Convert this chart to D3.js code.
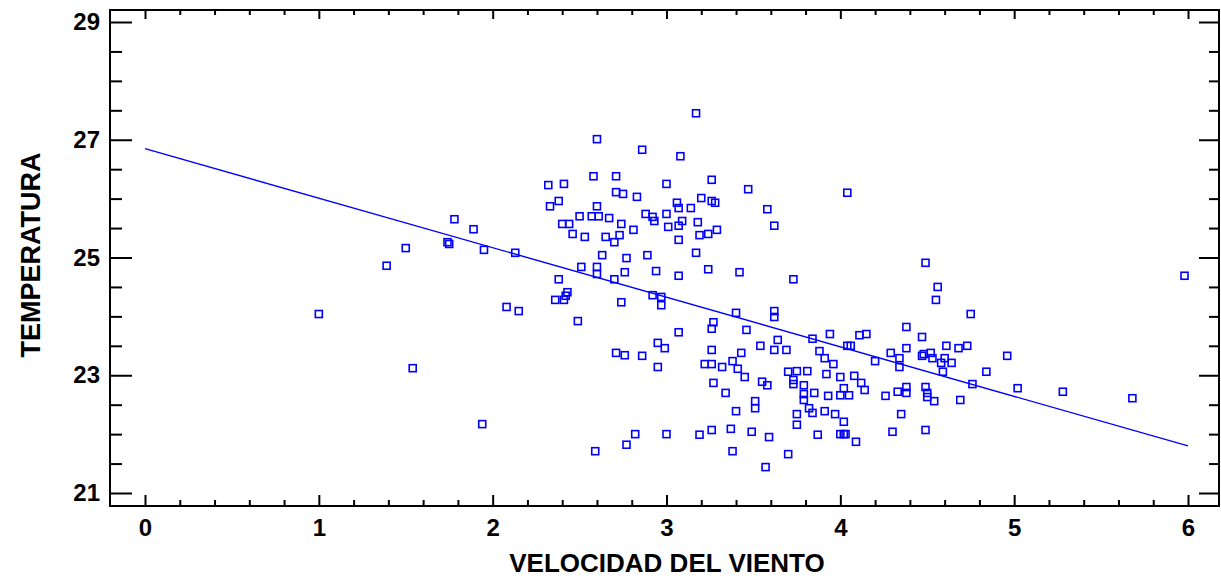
<!DOCTYPE html>
<html>
<head>
<meta charset="utf-8">
<script src="https://cdn.jsdelivr.net/npm/d3@7"></script>
<style>
  body { margin: 0; background: #fff; }
  svg text { font-family: "Liberation Sans", Arial, sans-serif; font-weight: bold; fill: #000; }
</style>
</head>
<body>
<svg id="chart" width="1221" height="578"></svg>
<script>
// data
const velocidad = [
  1.00, 1.39, 1.50, 1.54, 1.74, 1.75, 1.78, 1.89, 1.94, 1.95, 2.08, 2.13, 2.15,
  2.60, 2.58, 2.71, 2.32, 2.41, 2.71, 2.75, 2.38, 2.33, 2.60, 2.50, 2.57, 2.61, 2.67,
  2.40, 2.44, 2.74, 2.46, 2.53, 2.65, 2.73, 2.70, 2.63, 2.77, 2.51, 2.60, 2.60, 2.76,
  2.38, 2.70, 2.43, 2.42, 2.41, 2.36, 2.74, 2.49, 2.71, 2.76, 2.59, 2.77,
  3.17, 2.86, 3.08, 3.00, 3.26, 3.47, 2.83, 3.06, 3.20, 3.26, 3.28, 3.07, 3.14, 3.58,
  2.88, 2.92, 2.93, 3.00, 3.09, 3.18, 3.07, 3.01, 3.62, 2.81, 3.19, 3.24, 3.29, 3.07,
  3.17, 2.89, 2.94, 3.07, 3.24, 3.42, 3.73, 2.92, 2.97,
  2.97, 3.40, 3.27, 3.26, 3.62, 3.62, 3.07, 3.46, 2.95, 2.99, 2.86, 3.26, 3.43, 3.54,
  3.64, 3.62, 3.69, 2.95, 3.22, 3.26, 3.32, 3.38, 3.41, 3.45, 3.27, 3.34, 3.55, 3.58,
  3.70, 3.75, 3.73, 3.73, 3.40, 3.51, 3.51, 3.75, 3.75, 2.82, 3.00, 3.19, 3.26, 3.37,
  3.49, 3.59, 3.38, 3.70, 3.57,
  4.04, 4.49, 4.56, 4.55, 4.75, 3.94, 4.11, 4.15, 4.38, 4.47, 3.84,
  3.88, 3.91, 3.96, 4.04, 4.06, 4.20, 4.29, 4.34, 4.38, 4.34, 4.47, 4.48, 4.52, 4.53,
  4.60, 4.58, 4.64, 4.59, 4.61, 4.68, 4.73, 3.81, 3.79, 3.92, 4.00, 4.08, 4.12, 4.14,
  4.02, 4.00, 4.05, 3.93, 3.85, 3.79, 3.79, 3.82, 3.84, 3.91, 3.97, 4.02, 3.87, 4.00,
  4.02, 4.03, 4.09, 4.26, 4.33, 4.38, 4.38, 4.49, 4.50, 4.50, 4.54, 4.69, 4.35, 4.30,
  4.49,
  5.98, 4.96, 4.84, 4.76, 5.02, 5.28, 5.68
];
const temperatura = [
  24.04, 24.86, 25.16, 23.12, 25.26, 25.23, 25.65, 25.48, 22.17, 25.13, 24.16, 25.08, 24.09,
  27.01, 26.38, 26.38, 26.23, 26.25, 26.11, 26.08, 25.96, 25.87, 25.87, 25.70, 25.70, 25.70, 25.67,
  25.57, 25.57, 25.57, 25.40, 25.35, 25.35, 25.38, 25.26, 25.04, 24.99, 24.84, 24.84, 24.72, 24.75,
  24.63, 24.63, 24.41, 24.35, 24.28, 24.28, 24.24, 23.92, 23.38, 23.34, 21.71, 21.82,
  27.45, 26.83, 26.72, 26.25, 26.32, 26.16, 26.03, 25.93, 26.01, 25.96, 25.93, 25.84, 25.84, 25.82,
  25.74, 25.69, 25.62, 25.74, 25.62, 25.60, 25.54, 25.52, 25.54, 25.47, 25.38, 25.40, 25.47, 25.30,
  25.08, 25.04, 24.77, 24.69, 24.80, 24.75, 24.63, 24.36, 24.33,
  24.19, 24.06, 23.90, 23.79, 24.09, 23.99, 23.73, 23.77, 23.55, 23.46, 23.33, 23.43, 23.38, 23.50,
  23.60, 23.43, 23.43, 23.14, 23.19, 23.19, 23.14, 23.24, 23.11, 22.97, 22.87, 22.70, 22.89, 22.83,
  23.06, 23.07, 22.92, 22.85, 22.39, 22.56, 22.44, 22.34, 22.16, 22.00, 22.00, 21.99, 22.07, 22.09,
  22.04, 21.95, 21.71, 21.66, 21.44,
  26.10, 24.91, 24.50, 24.28, 24.04, 23.70, 23.68, 23.70, 23.82, 23.65, 23.62,
  23.41, 23.29, 23.19, 23.50, 23.50, 23.24, 23.38, 23.29, 23.46, 23.14, 23.33, 23.36, 23.38, 23.29,
  23.29, 23.21, 23.21, 23.06, 23.50, 23.46, 23.50, 23.07, 22.83, 23.02, 22.97, 22.99, 22.87, 22.75,
  22.78, 22.66, 22.66, 22.65, 22.70, 22.68, 22.58, 22.44, 22.36, 22.39, 22.34, 22.21, 21.99, 22.00,
  22.00, 22.00, 21.87, 22.65, 22.72, 22.80, 22.70, 22.80, 22.70, 22.63, 22.56, 22.58, 22.34, 22.04,
  22.07,
  24.69, 23.33, 23.06, 22.85, 22.78, 22.72, 22.61
];

// fitted line (ends)
const ajusteX = [0, 6];
const ajusteY = [26.85, 21.80];

const xMajor = [0, 1, 2, 3, 4, 5, 6];
const yMajor = [21, 23, 25, 27, 29];

// layout
const frame = { left: 110, right: 1219, top: 10, bottom: 506 };

const svg = d3.select('#chart');

const x = d3.scaleLinear().domain([0, 6]).range([145, 1188]);
const y = d3.scaleLinear().domain([21, 29]).range([493, 22]);

const xMinor = d3.range(0, 6.001, 0.2).filter(d => Math.abs(d - Math.round(d)) > 1e-6);
const yMinor = d3.range(21, 29.001, 0.5).filter(d => d % 2 !== 1);

// frame
svg.append('rect')
    .attr('x', frame.left)
    .attr('y', frame.top)
    .attr('width', frame.right - frame.left)
    .attr('height', frame.bottom - frame.top)
    .attr('fill', 'none')
    .attr('stroke', '#000')
    .attr('stroke-width', 2);

function styleAxis(g) {
    g.select('.domain').remove();
    g.selectAll('.tick line').attr('stroke', '#000').attr('stroke-width', 2);
    g.selectAll('.tick text').attr('font-size', 24).attr('fill', '#000');
}

// bottom axis
svg.append('g')
    .attr('transform', 'translate(0,' + frame.bottom + ')')
    .call(d3.axisBottom(x).tickValues(xMajor).tickSize(-11).tickPadding(13).tickFormat(d3.format('d')))
    .call(styleAxis);
svg.append('g')
    .attr('transform', 'translate(0,' + frame.bottom + ')')
    .call(d3.axisBottom(x).tickValues(xMinor).tickSize(-6).tickFormat(''))
    .call(styleAxis);

// top axis
svg.append('g')
    .attr('transform', 'translate(0,' + frame.top + ')')
    .call(d3.axisTop(x).tickValues(xMajor).tickSize(-9).tickFormat(''))
    .call(styleAxis);
svg.append('g')
    .attr('transform', 'translate(0,' + frame.top + ')')
    .call(d3.axisTop(x).tickValues(xMinor).tickSize(-5).tickFormat(''))
    .call(styleAxis);

// left axis
svg.append('g')
    .attr('transform', 'translate(' + frame.left + ',0)')
    .call(d3.axisLeft(y).tickValues(yMajor).tickSize(-22).tickPadding(10).tickFormat(d3.format('d')))
    .call(styleAxis);
svg.append('g')
    .attr('transform', 'translate(' + frame.left + ',0)')
    .call(d3.axisLeft(y).tickValues(yMinor).tickSize(-12).tickFormat(''))
    .call(styleAxis);

// right axis
svg.append('g')
    .attr('transform', 'translate(' + frame.right + ',0)')
    .call(d3.axisRight(y).tickValues(yMajor).tickSize(-20).tickFormat(''))
    .call(styleAxis);
svg.append('g')
    .attr('transform', 'translate(' + frame.right + ',0)')
    .call(d3.axisRight(y).tickValues(yMinor).tickSize(-10).tickFormat(''))
    .call(styleAxis);

// fitted line
svg.append('path')
    .datum(d3.zip(ajusteX, ajusteY))
    .attr('fill', 'none')
    .attr('stroke', '#0000ff')
    .attr('stroke-width', 1.4)
    .attr('d', d3.line().x(d => x(d[0])).y(d => y(d[1])));

// points
const sq = 7;
svg.append('g')
    .selectAll('rect')
    .data(d3.zip(velocidad, temperatura))
    .join('rect')
    .attr('x', d => x(d[0]) - sq / 2)
    .attr('y', d => y(d[1]) - sq / 2)
    .attr('width', sq)
    .attr('height', sq)
    .attr('fill', 'none')
    .attr('stroke', '#0000ff')
    .attr('stroke-width', 1.6);

// axis titles
svg.append('text')
    .attr('x', 667)
    .attr('y', 572)
    .attr('text-anchor', 'middle')
    .attr('font-size', 26)
    .text('VELOCIDAD DEL VIENTO');

svg.append('text')
    .attr('transform', 'translate(40,255) rotate(-90)')
    .attr('text-anchor', 'middle')
    .attr('font-size', 27)
    .text('TEMPERATURA');
</script>
</body>
</html>
